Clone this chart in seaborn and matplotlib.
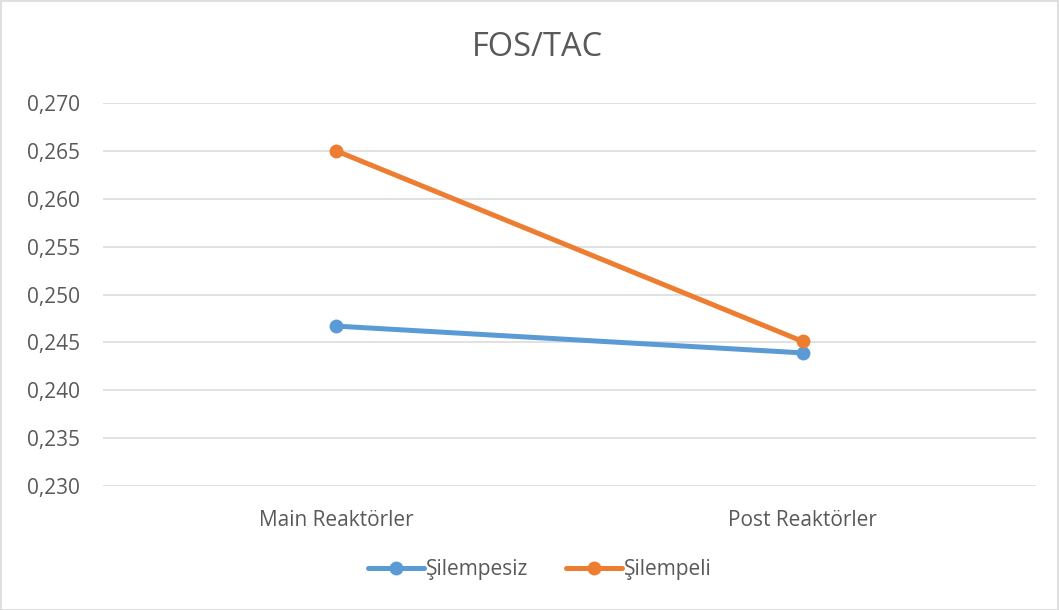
import matplotlib
matplotlib.use("Agg")
import matplotlib.pyplot as plt
import seaborn as sns
import pandas as pd
from matplotlib.patches import Rectangle
from matplotlib.lines import Line2D

categories = ["Main Reaktörler", "Post Reaktörler"]
series_names = ["Şilempesiz", "Şilempeli"]
silempesiz = [0.2467, 0.2439]
silempeli = [0.2650, 0.2451]
yticks = [0.230, 0.235, 0.240, 0.245, 0.250, 0.255, 0.260, 0.265, 0.270]
colors = ["#5B9BD5", "#ED7D31"]

rows = []
for name, vals in zip(series_names, [silempesiz, silempeli]):
    for c, v in zip(categories, vals):
        rows.append({"cat": c, "val": v, "series": name})
df = pd.DataFrame(rows)

sns.set_theme(style="white")
plt.rcParams['font.family'] = ['Open Sans', 'DejaVu Sans']
txt = "#595959"

fig = plt.figure(figsize=(10.59, 6.10), dpi=100)
ax = fig.add_axes([103/1059, 1-486/610, (1036-103)/1059, (486-103)/610])

sns.lineplot(data=df, x="cat", y="val", hue="series", palette=colors,
             marker="o", markersize=10, linewidth=3.6, markeredgewidth=0,
             ax=ax, legend=False, sort=False)

ax.set_xlim(-0.5, 1.5)
ax.set_ylim(0.230, 0.270)
ax.set_yticks(yticks)
ax.set_yticklabels([f"{t:.3f}".replace(".", ",") for t in yticks])
ax.yaxis.grid(True, color="#D9D9D9", linewidth=1.1)
ax.set_axisbelow(True)
for s in ax.spines.values():
    s.set_visible(False)
ax.tick_params(axis="both", length=0, labelsize=15, colors=txt)
ax.tick_params(axis="y", pad=16.5)
ax.tick_params(axis="x", pad=17.5)
ax.set_xlabel("")
ax.set_ylabel("")

fig.text(537/1059, 1-47/610, "FOS/TAC", ha="center", va="center", fontsize=23.5, color=txt)

handles = [Line2D([0], [0], color=c, linewidth=3.6, marker="o", markersize=10,
                  markeredgewidth=0) for c in colors]
fig.legend(handles, series_names, loc="center", bbox_to_anchor=(540/1059, 1-570/610),
           ncol=2, frameon=False, fontsize=15, labelcolor=txt, handlelength=2.7,
           handletextpad=0.1, columnspacing=1.8)

fig.patches.append(Rectangle((0.5/1059, 0.5/610), 1-1.5/1059, 1-1.5/610, transform=fig.transFigure,
                             fill=False, edgecolor="#D9D9D9", linewidth=1.2))

fig.savefig("out.png", dpi=100)
